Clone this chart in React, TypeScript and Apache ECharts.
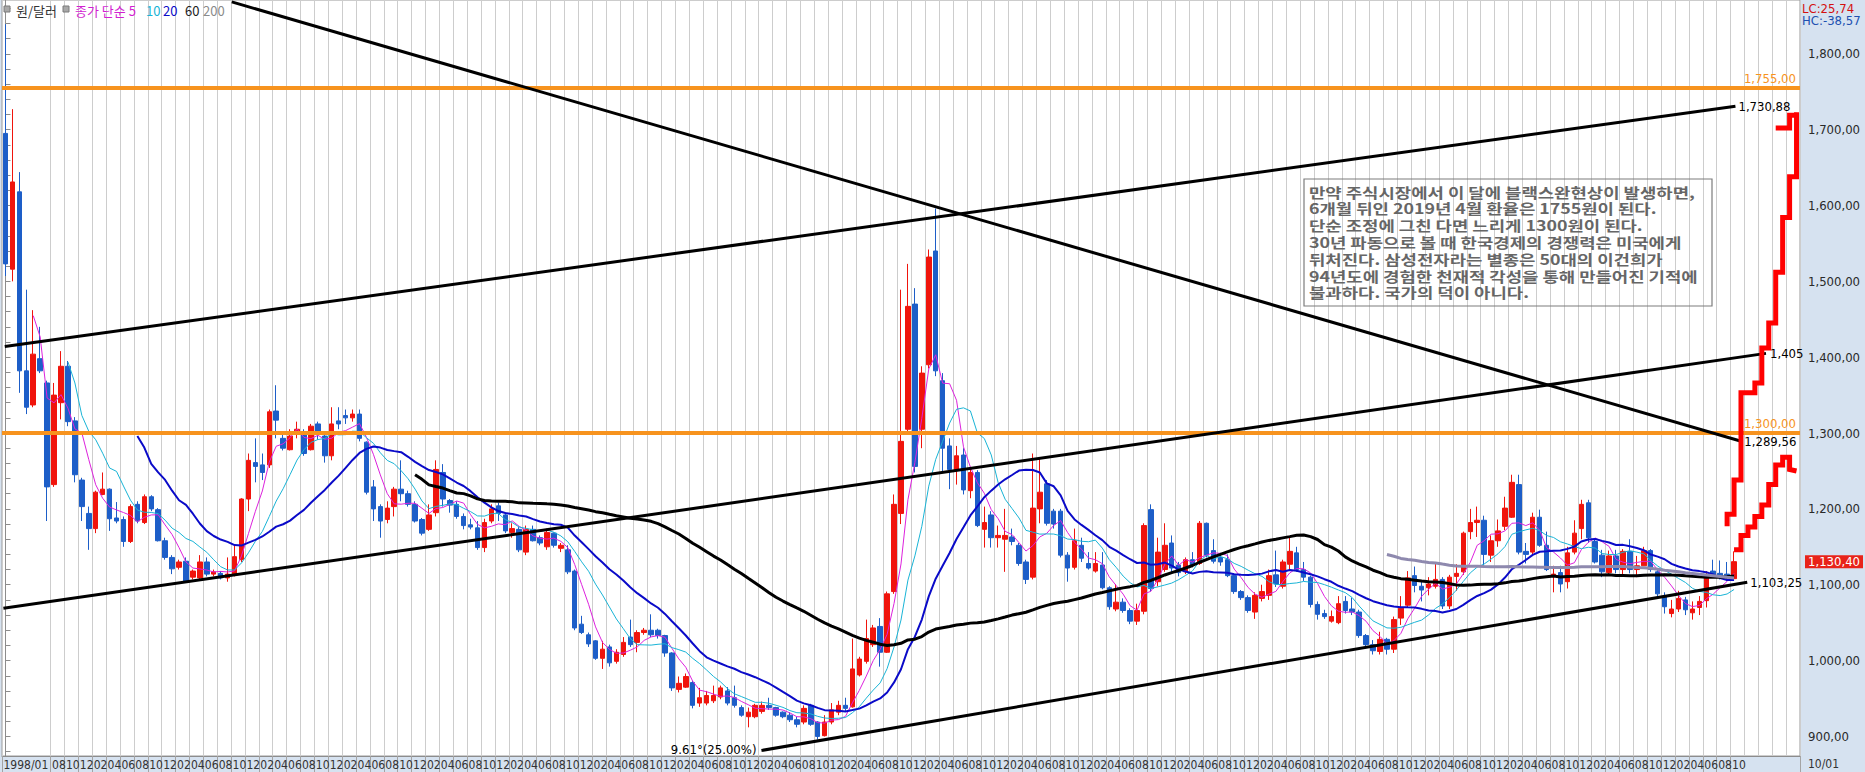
import React, { useEffect, useRef } from 'react';
import * as echarts from 'echarts';

// ---------- data ----------
const START_YEAR = 1998;
const SLOT_COUNT = 259; // 250 months of data + empty future slots

const opens = [
  1695,1516,1618,1382,1337,1398,1366,1232,1340,1388,1316,1238,
  1194,1174,1219,1226,1188,1186,1157,1206,1182,1216,1199,1158,
  1136,1123,1131,1110,1109,1130,1114,1115,1109,1114,1133,1213,
  1261,1258,1258,1329,1293,1278,1302,1299,1278,1312,1296,1270,
  1316,1323,1320,1325,1288,1229,1203,1186,1203,1226,1220,1206,
  1186,1173,1195,1248,1211,1206,1190,1179,1175,1149,1184,1204,
  1192,1169,1173,1143,1173,1162,1150,1168,1148,1146,1118,1048,
  1034,1026,1003,1018,999,1008,1031,1024,1037,1040,1040,1033,
  1010,962,965,971,944,944,947,952,960,951,938,926,
  926,933,941,938,932,928,922,919,941,919,901,919,
  932,941,939,981,999,1021,1045,1011,1091,1194,1305,1470,
  1305,1390,1540,1369,1283,1251,1271,1224,1248,1173,1192,1162,
  1160,1163,1152,1130,1110,1200,1233,1197,1197,1139,1123,1152,
  1128,1118,1126,1096,1068,1077,1066,1052,1065,1199,1104,1120,
  1155,1126,1117,1133,1128,1181,1145,1136,1133,1112,1091,1083,
  1064,1082,1086,1113,1098,1127,1142,1120,1110,1074,1062,1052,
  1050,1078,1068,1064,1033,1021,1012,1028,1015,1056,1073,1112,
  1098,1096,1098,1107,1072,1111,1117,1170,1182,1185,1139,1158,
  1177,1189,1232,1144,1143,1189,1152,1111,1116,1104,1143,1174,
  1208,1157,1139,1116,1138,1120,1144,1120,1125,1145,1117,1085,
  1062,1068,1080,1063,1070,1079,1118,1115,1114,1108
];
const closes = [
  1523,1631,1382,1334,1404,1382,1229,1350,1388,1315,1245,1203,
  1174,1222,1226,1187,1184,1157,1203,1184,1216,1200,1158,1136,
  1121,1130,1105,1118,1130,1114,1117,1109,1114,1137,1213,1264,
  1256,1248,1328,1317,1280,1296,1305,1273,1309,1302,1270,1312,
  1312,1320,1325,1293,1222,1200,1184,1201,1226,1220,1206,1184,
  1168,1192,1252,1213,1205,1190,1178,1176,1149,1182,1200,1194,
  1171,1174,1146,1173,1158,1155,1169,1152,1152,1117,1043,1037,
  1022,1003,1015,997,1011,1024,1021,1037,1040,1034,1033,1010,
  964,970,979,941,951,954,954,964,944,941,928,932,
  941,941,938,928,926,922,916,937,916,900,919,935,
  941,937,989,1002,1029,1043,1011,1088,1206,1289,1467,1256,
  1379,1532,1382,1280,1252,1270,1225,1248,1178,1182,1162,1165,
  1165,1157,1128,1107,1201,1222,1181,1180,1139,1122,1158,1135,
  1122,1128,1096,1071,1077,1066,1052,1066,1178,1095,1143,1152,
  1122,1116,1133,1126,1181,1139,1131,1130,1112,1091,1083,1066,
  1086,1091,1112,1101,1130,1144,1120,1110,1074,1061,1058,1058,
  1075,1066,1064,1033,1021,1013,1028,1015,1054,1069,1109,1099,
  1093,1101,1107,1072,1110,1115,1168,1182,1185,1140,1158,1171,
  1201,1235,1143,1140,1189,1152,1120,1114,1101,1142,1168,1206,
  1162,1130,1117,1138,1120,1144,1120,1125,1145,1120,1088,1071,
  1068,1082,1067,1068,1078,1112,1113,1110,1109,1130.4
];
const lows = [
  1507,1500,1353,1325,1334,1379,1184,1229,1318,1309,1235,1184,
  1146,1168,1218,1171,1181,1150,1155,1181,1180,1197,1157,1133,
  1114,1120,1104,1107,1107,1111,1111,1107,1104,1111,1130,1197,
  1235,1238,1254,1293,1277,1277,1293,1270,1277,1291,1261,1264,
  1305,1312,1315,1289,1219,1184,1162,1181,1190,1210,1203,1182,
  1165,1171,1190,1203,1195,1187,1173,1173,1146,1143,1181,1184,
  1168,1162,1143,1139,1157,1152,1146,1149,1143,1114,1040,1035,
  1018,1001,989,992,996,1005,1018,1011,1034,1031,1029,1005,
  960,958,964,937,939,941,944,949,941,938,926,912,
  924,930,935,926,924,919,912,916,914,896,900,916,
  928,933,938,979,996,1018,992,1010,1088,1180,1302,1248,
  1280,1385,1375,1250,1226,1232,1219,1214,1176,1149,1149,1149,
  1117,1152,1125,1101,1107,1181,1178,1174,1136,1104,1120,1130,
  1120,1116,1094,1067,1065,1063,1048,1047,1061,1091,1098,1117,
  1117,1111,1114,1123,1126,1136,1128,1125,1110,1088,1080,1063,
  1055,1078,1080,1097,1095,1120,1117,1105,1070,1054,1055,1050,
  1048,1062,1060,1030,1016,1008,1008,1008,1010,1047,1070,1090,
  1078,1086,1095,1068,1068,1092,1113,1160,1163,1122,1130,1150,
  1172,1188,1140,1128,1138,1150,1118,1090,1090,1095,1140,1160,
  1155,1128,1110,1112,1115,1113,1115,1110,1125,1117,1083,1062,
  1057,1064,1060,1054,1060,1070,1110,1107,1105,1105
];
const highs = [
  1839,1727,1644,1489,1462,1440,1369,1366,1408,1395,1321,1241,
  1203,1224,1248,1227,1209,1190,1206,1210,1219,1218,1201,1162,
  1139,1133,1136,1120,1139,1136,1120,1118,1136,1152,1214,1273,
  1293,1273,1331,1363,1302,1305,1315,1305,1312,1315,1299,1334,
  1334,1331,1331,1331,1289,1238,1206,1210,1229,1264,1224,1210,
  1188,1206,1264,1259,1213,1210,1194,1187,1184,1187,1206,1208,
  1195,1181,1176,1178,1178,1165,1174,1169,1155,1152,1120,1059,
  1037,1027,1026,1021,1015,1031,1054,1040,1043,1061,1042,1034,
  1011,979,983,973,964,960,967,967,965,967,941,938,
  943,946,951,939,933,932,926,941,943,920,928,944,
  947,951,1029,1005,1054,1047,1056,1091,1219,1489,1523,1491,
  1388,1542,1596,1379,1293,1283,1280,1254,1251,1203,1197,1178,
  1200,1174,1155,1133,1273,1267,1238,1200,1200,1143,1174,1162,
  1143,1143,1143,1098,1101,1082,1069,1075,1181,1206,1162,1181,
  1165,1130,1136,1143,1184,1182,1160,1142,1140,1115,1093,1086,
  1090,1100,1120,1145,1133,1163,1150,1130,1112,1078,1067,1066,
  1085,1085,1083,1067,1035,1027,1038,1030,1058,1085,1118,1124,
  1104,1110,1130,1110,1113,1127,1170,1200,1203,1191,1165,1186,
  1216,1245,1245,1155,1195,1199,1170,1125,1125,1150,1185,1212,
  1212,1160,1146,1145,1146,1147,1160,1138,1150,1147,1120,1090,
  1080,1092,1084,1078,1085,1118,1133,1132,1130,1144
];

// moving-average periods shown in the legend
const maPeriods = [5, 10, 20, 60, 200];
const maColors = ['#dd22dd', '#19b4d6', '#0a0ac8', '#000000', '#8e89ae'];
const maWidths = [1, 1, 2, 3, 3];

// drawn objects, as [slot index, value]
const upTrend = [[-0.1, 1414], [249.2, 1730.88]];
const midTrend = [[-0.3, 1069], [253.6, 1405]];
const downTrend = [[32.6, 1868.4], [249.9, 1289.56]];
const lowTrend = [[108.9, 881.5], [250.9, 1103.25]];
const levelValues = [1755, 1300];
const upperStairs = [
  [248, 1177], [248, 1193], [249, 1193], [249, 1238], [250, 1238], [250, 1353],
  [252, 1353], [252, 1366], [253, 1366], [253, 1412], [254, 1412], [254, 1445],
  [255, 1445], [255, 1512], [256, 1512], [256, 1584], [257, 1584], [257, 1638],
  [258, 1638], [258, 1723]
];
const upperStairsTop = [[255, 1702], [257, 1702], [257, 1719], [258, 1719]];
const lowerStairs = [
  [249, 1146], [250, 1146], [250, 1165], [251, 1165], [251, 1176], [252, 1176],
  [252, 1190], [253, 1190], [253, 1205], [254, 1205], [254, 1232], [255, 1232],
  [255, 1258], [256, 1258], [256, 1268], [257, 1268], [257, 1252], [258, 1250]
];
const lastPrice = 1130.4;

// axis ticks / labels
const yLabelValues = [900, 1000, 1100, 1200, 1300, 1400, 1500, 1600, 1700, 1800];
const yTickValues = [
  880, 900, 920, 940, 960, 980, 1000, 1020, 1040, 1060, 1080, 1100, 1120, 1140, 1160, 1180,
  1200, 1220, 1240, 1260, 1280, 1300, 1320, 1340, 1360, 1380, 1400, 1420, 1440, 1460, 1480,
  1500, 1520, 1540, 1560, 1580, 1600, 1620, 1640, 1660, 1680, 1700, 1720, 1740, 1760, 1780,
  1800, 1820, 1840, 1860
];
const Y_MIN = 874.2;
const Y_MAX = 1870.9;

const noteLines = [
  '만약 주식시장에서 이 달에 블랙스완현상이 발생하면,',
  '6개월 뒤인 2019년 4월 환율은 1755원이 된다.',
  '단순 조정에 그친 다면 느리게 1300원이 된다.',
  '30년 파동으로 볼 때 한국경제의 경쟁력은 미국에게',
  '뒤처진다. 삼성전자라는 별종은 50대의 이건희가',
  '94년도에 경험한 천재적 각성을 통해 만들어진 기적에',
  '불과하다. 국가의 덕이 아니다.'
];

// ---------- helpers ----------
const categories: string[] = [];
for (let i = 0; i < SLOT_COUNT; i++) {
  const y = START_YEAR + Math.floor(i / 12);
  const m = (i % 12) + 1;
  categories.push(`${y}/${m < 10 ? '0' + m : m}`);
}

function sma(n: number) {
  return closes.map((_, i) => {
    if (i < n - 1) return '-';
    let s = 0;
    for (let k = i - n + 1; k <= i; k++) s += closes[k];
    return +(s / n).toFixed(2);
  });
}

function fmt(v: number) {
  const [a, b] = v.toFixed(2).split('.');
  return a.replace(/\B(?=(\d{3})+(?!\d))/g, ',') + ',' + b;
}

const NUM_FONT = "'Liberation Sans Narrow','DejaVu Sans Condensed','Liberation Sans',sans-serif";
const KR_FONT = "'Noto Sans CJK KR','Noto Sans',sans-serif";
const RED = '#f0140c';
const BLUE = '#1d5ec8';
const ORANGE = '#f7931e';

const labelShown = (i: number) => i === 0 || (i >= 7 && i % 2 === 1 && i < closes.length);
const gridShown = (i: number) => i === 0 || (i >= 7 && i % 2 === 1);

function lineSeries(data: number[][], color: string, width: number, z: number) {
  return {
    type: 'line',
    xAxisIndex: 1,
    yAxisIndex: 0,
    data,
    symbol: 'none',
    showSymbol: false,
    silent: true,
    z,
    lineStyle: { color, width, cap: 'butt', join: 'miter' },
  };
}

function buildOption() {
  const series: any[] = [];
  series.push({
    name: '원/달러',
    type: 'candlestick',
    xAxisIndex: 0,
    yAxisIndex: 0,
    barWidth: 5,
    z: 2,
    data: opens.map((o, i) => [o, closes[i], lows[i], highs[i]]),
    itemStyle: { color: RED, color0: BLUE, borderColor: RED, borderColor0: BLUE, borderWidth: 1 },
  });
  maPeriods.forEach((p, k) => {
    series.push({
      name: 'MA' + p,
      type: 'line',
      xAxisIndex: 0,
      yAxisIndex: 0,
      data: sma(p),
      symbol: 'none',
      showSymbol: false,
      z: 3,
      lineStyle: { color: maColors[k], width: maWidths[k] },
    });
  });
  levelValues.forEach((v) => {
    series.push(lineSeries([[-0.5, v], [SLOT_COUNT - 0.5, v]], ORANGE, 4, 4));
  });
  const trendStart = series.length;
  series.push(lineSeries(upTrend, '#000', 3, 5));
  series.push(lineSeries(midTrend, '#000', 3, 5));
  series.push(lineSeries(downTrend, '#000', 3, 5));
  series.push(lineSeries(lowTrend, '#000', 3, 5));
  series.push(lineSeries(upperStairs, '#ff0000', 5, 6));
  series.push(lineSeries(upperStairsTop, '#ff0000', 5, 6));
  series.push(lineSeries(lowerStairs, '#ff0000', 5, 6));

  const option: any = {
    animation: false,
    backgroundColor: '#d6e2f0',
    grid: {
      left: 2, right: 65, top: 0, bottom: 16,
      show: true, backgroundColor: '#ffffff', borderColor: '#9a9a9a', borderWidth: 1,
    },
    xAxis: [
      {
        type: 'category',
        data: categories,
        boundaryGap: true,
        axisLine: { show: true, lineStyle: { color: '#8c8c8c' } },
        axisTick: { show: true, interval: (i: number) => labelShown(i), length: 16, lineStyle: { color: '#a4a4a4' } },
        axisLabel: {
          interval: (i: number) => labelShown(i),
          formatter: (v: string, i: number) => (i === 0 ? v : v.slice(5)),
          align: 'left',
          margin: 3,
          fontSize: 12,
          color: '#333',
          fontFamily: NUM_FONT,
          padding: [0, 0, 0, -2],
        },
        splitLine: { show: true, interval: (i: number) => gridShown(i), lineStyle: { color: '#cdcdcd', width: 1 } },
      },
      { type: 'value', min: -0.5, max: SLOT_COUNT - 0.5, show: false },
    ],
    yAxis: {
      type: 'value',
      position: 'right',
      min: Y_MIN,
      max: Y_MAX,
      axisLine: { show: true, lineStyle: { color: '#8c8c8c' } },
      axisTick: { show: true, customValues: yTickValues, length: 5, lineStyle: { color: '#8c8c8c' } },
      axisLabel: {
        customValues: yLabelValues,
        formatter: (v: number) => fmt(v),
        margin: 8,
        color: '#2a2a2a',
        fontSize: 13,
        fontFamily: NUM_FONT,
      },
      splitLine: { show: false },
    },
    series,
  };
  return { option, trendStart };
}

function txt(x: number, y: number, text: string, fill: string, fontSize: number, opts: any = {}) {
  const el: any = {
    type: 'text',
    x, y, z: 100, silent: true,
    style: {
      text, fill, fontSize,
      fontFamily: opts.fontFamily || NUM_FONT,
      fontWeight: opts.fontWeight || 'normal',
      align: opts.align || 'left', textAlign: opts.align || 'left',
      verticalAlign: opts.va || 'middle', textVerticalAlign: opts.va || 'middle',
    },
  };
  if (opts.scaleX) el.scaleX = opts.scaleX;
  return el;
}

export default function App() {
  const ref = useRef<HTMLDivElement>(null);
  useEffect(() => {
    const el = ref.current;
    if (!el) return;
    const chart = echarts.init(el, null, { renderer: 'svg' });
    const { option, trendStart } = buildOption();
    chart.setOption(option);

    const P = (pt: number[]) => chart.convertToPixel({ seriesIndex: trendStart }, pt) as number[];
    const g: any[] = [];

    // legend
    g.push({ type: 'rect', shape: { x: 4, y: 6, width: 6, height: 6 }, style: { fill: '#a8a8a8', stroke: '#7a7a7a', lineWidth: 1 }, z: 100 });
    g.push(txt(16, 10, '원/달러', '#333', 13, { fontFamily: KR_FONT }));
    g.push({ type: 'rect', shape: { x: 63, y: 6, width: 6, height: 6 }, style: { fill: '#a8a8a8', stroke: '#7a7a7a', lineWidth: 1 }, z: 100 });
    g.push(txt(75, 10, '종가 단순 5', '#d21ed2', 13, { fontFamily: KR_FONT }));
    g.push(txt(146, 10, '10', '#19b4d6', 13, { fontFamily: KR_FONT }));
    g.push(txt(163, 10, '20', '#0a0ac8', 13, { fontFamily: KR_FONT }));
    g.push(txt(185, 10, '60', '#222', 13, { fontFamily: KR_FONT }));
    g.push(txt(203, 10, '200', '#8a8a8a', 13, { fontFamily: KR_FONT }));

    // top-right info
    g.push(txt(1802, 8, 'LC:25,74', '#d41010', 13));
    g.push(txt(1802, 20, 'HC:-38,57', '#2050b0', 13));
    g.push(txt(1808, 764, '10/01', '#333', 12));

    // note box
    g.push({ type: 'rect', shape: { x: 1304, y: 179, width: 408, height: 127 }, style: { fill: 'rgba(255,255,255,0)', stroke: '#7c7c7c', lineWidth: 1.2 }, z: 99 });
    noteLines.forEach((line, k) => {
      g.push(txt(1309, 191.5 + k * 16.8, line, '#666', 14, { fontFamily: KR_FONT, fontWeight: 'bold', scaleX: 1.27 }));
    });

    // level labels
    levelValues.forEach((v) => {
      const p = P([SLOT_COUNT - 0.5, v]);
      g.push(txt(1796, p[1] - 3, fmt(v), ORANGE, 13, { align: 'right', va: 'bottom' }));
    });

    // trend end labels
    const e1 = P(upTrend[1]);
    g.push(txt(e1[0] + 3, e1[1], fmt(upTrend[1][1]), '#000', 13));
    const e2 = P(midTrend[1]);
    g.push(txt(e2[0] + 4, e2[1], '1,405', '#000', 13));
    const e3 = P(downTrend[1]);
    g.push(txt(e3[0] + 4, e3[1] + 1, fmt(downTrend[1][1]), '#000', 13));
    const e4 = P(lowTrend[1]);
    g.push(txt(e4[0] + 3, e4[1], fmt(lowTrend[1][1]), '#000', 13));
    const s4 = P(lowTrend[0]);
    g.push(txt(s4[0] - 5, s4[1] - 1, '9.61°(25.00%)', '#000', 13, { align: 'right' }));

    // last price tag
    const lp = P([0, lastPrice]);
    g.push({ type: 'rect', shape: { x: 1805, y: lp[1] - 6.5, width: 58, height: 13 }, style: { fill: '#e8231a' }, z: 100 });
    g.push(txt(1808, lp[1], fmt(lastPrice), '#ffffff', 13));

    chart.setOption({ graphic: g });
    return () => chart.dispose();
  }, []);
  return <div ref={ref} style={{ position: 'absolute', left: 0, top: 0, width: 1865, height: 772 }} />;
}
